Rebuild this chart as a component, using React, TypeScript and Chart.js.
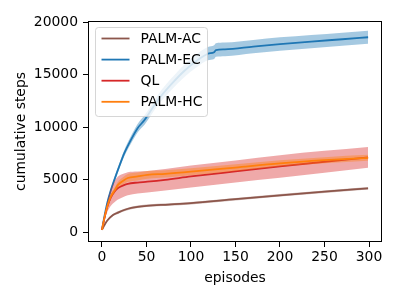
import React, { useEffect, useRef } from "react";
import { Chart, registerables } from "chart.js";

Chart.register(...registerables);

// ---- data ----
const seriesNames = ["PALM-AC", "PALM-EC", "QL", "PALM-HC"];
const seriesColors = ["#8c564b", "#1f77b4", "#d62728", "#ff7f0e"];
const bandColors = [
  "rgba(140,86,75,0.4)",
  "rgba(31,119,180,0.4)",
  "rgba(214,39,40,0.4)",
  "rgba(255,127,14,0.4)",
];

const episodesAC = [0, 3, 6, 12, 18, 25, 33, 50, 75, 100, 150, 200, 250, 299];
const meanAC = [200, 700, 1100, 1600, 1850, 2100, 2300, 2500, 2620, 2750, 3130, 3500, 3850, 4170];
const spreadAC = [0, 50, 80, 100, 120, 120, 120, 120, 120, 120, 120, 120, 120, 120];

const episodesEC = [0, 3, 6, 10, 14, 20, 25, 32, 40, 48, 63, 78, 93, 106, 119, 126, 128, 138, 170, 200, 235, 270, 299];
const meanEC = [200, 1600, 2800, 4000, 5000, 6400, 7500, 8700, 9900, 10700, 12600, 14100, 15400, 16300, 17000, 17150, 17350, 17420, 17680, 17920, 18160, 18380, 18570];
const spreadEC = [0, 100, 150, 200, 250, 250, 300, 350, 400, 450, 500, 550, 600, 620, 630, 650, 650, 650, 640, 640, 630, 630, 630];

const episodesQL = [0, 3, 6, 10, 14, 18, 24, 29, 40, 51, 71, 100, 150, 200, 250, 299];
const meanQL = [200, 1400, 2400, 3300, 3850, 4200, 4450, 4600, 4720, 4800, 4980, 5300, 5780, 6250, 6700, 7120];
const spreadQL = [0, 250, 500, 800, 1000, 1100, 1100, 1100, 1050, 1030, 1030, 1050, 1050, 1080, 1050, 1000];

const episodesHC = [0, 3, 6, 10, 14, 18, 24, 29, 40, 51, 71, 100, 150, 200, 250, 299];
const meanHC = [200, 1450, 2450, 3400, 3950, 4500, 4900, 5150, 5300, 5450, 5550, 5750, 6150, 6550, 6850, 7080];
const spreadHC = [0, 100, 150, 200, 250, 300, 350, 380, 380, 370, 350, 330, 320, 300, 290, 280];

const xTicks = [0, 50, 100, 150, 200, 250, 300];
const yTicks = [0, 5000, 10000, 15000, 20000];
const xTitle = "episodes";
const yTitle = "cumulative steps";

const allEpisodes = [episodesAC, episodesEC, episodesQL, episodesHC];
const allMeans = [meanAC, meanEC, meanQL, meanHC];
const allSpreads = [spreadAC, spreadEC, spreadQL, spreadHC];

const FONT = "DejaVu Sans";
const FS = 13.9;
const LW = 1.8;

function buildDatasets() {
  const ds: any[] = [];
  for (let s = 0; s < seriesNames.length; s++) {
    const eps = allEpisodes[s];
    const m = allMeans[s];
    const sp = allSpreads[s];
    const base = (seriesNames.length - s) * 3;
    const common = {
      pointRadius: 0,
      pointHoverRadius: 0,
      cubicInterpolationMode: "monotone" as const,
    };
    ds.push({
      ...common,
      label: seriesNames[s] + " lo",
      data: eps.map((e, i) => ({ x: e, y: m[i] - sp[i] })),
      borderWidth: 0,
      borderColor: "rgba(0,0,0,0)",
      fill: false,
      order: base,
    });
    ds.push({
      ...common,
      label: seriesNames[s] + " hi",
      data: eps.map((e, i) => ({ x: e, y: m[i] + sp[i] })),
      borderWidth: 0,
      borderColor: "rgba(0,0,0,0)",
      backgroundColor: bandColors[s],
      fill: "-1",
      order: base - 1,
    });
    ds.push({
      ...common,
      label: seriesNames[s],
      data: eps.map((e, i) => ({ x: e, y: m[i] })),
      borderWidth: LW,
      borderColor: seriesColors[s],
      fill: false,
      order: base - 2,
    });
  }
  return ds;
}

const framePlugin = {
  id: "frame",
  afterDatasetsDraw(chart: any) {
    const { ctx, chartArea } = chart;
    ctx.save();
    ctx.strokeStyle = "#000";
    ctx.lineWidth = 1;
    ctx.strokeRect(
      Math.round(chartArea.left) + 0.5,
      Math.round(chartArea.top) + 0.5,
      Math.round(chartArea.right - chartArea.left) - 1,
      Math.round(chartArea.bottom - chartArea.top) - 1
    );
    ctx.restore();
  },
};

const legendPlugin = {
  id: "boxLegend",
  afterDraw(chart: any) {
    const { ctx } = chart;
    const x0 = 95.5, y0 = 27.5, w = 112, h = 89, r = 3;
    ctx.save();
    ctx.beginPath();
    ctx.moveTo(x0 + r, y0);
    ctx.lineTo(x0 + w - r, y0);
    ctx.arcTo(x0 + w, y0, x0 + w, y0 + r, r);
    ctx.lineTo(x0 + w, y0 + h - r);
    ctx.arcTo(x0 + w, y0 + h, x0 + w - r, y0 + h, r);
    ctx.lineTo(x0 + r, y0 + h);
    ctx.arcTo(x0, y0 + h, x0, y0 + h - r, r);
    ctx.lineTo(x0, y0 + r);
    ctx.arcTo(x0, y0, x0 + r, y0, r);
    ctx.closePath();
    ctx.fillStyle = "rgba(255,255,255,0.8)";
    ctx.fill();
    ctx.strokeStyle = "rgba(204,204,204,0.8)";
    ctx.lineWidth = 1;
    ctx.stroke();
    ctx.font = `${FS}px "${FONT}"`;
    ctx.textBaseline = "middle";
    ctx.textAlign = "left";
    for (let i = 0; i < seriesNames.length; i++) {
      const y = 38.5 + i * 21.1;
      ctx.strokeStyle = seriesColors[i];
      ctx.lineWidth = LW;
      ctx.beginPath();
      ctx.moveTo(101.5, y);
      ctx.lineTo(129.5, y);
      ctx.stroke();
      ctx.fillStyle = "#000";
      ctx.fillText(seriesNames[i], 140.5, y + 0.5);
    }
    ctx.restore();
  },
};

export default function App() {
  const ref = useRef<HTMLCanvasElement | null>(null);
  useEffect(() => {
    if (!ref.current) return;
    const tickFont = { family: FONT, size: FS };
    const chart = new Chart(ref.current, {
      type: "line",
      data: { datasets: buildDatasets() },
      options: {
        animation: false,
        responsive: false,
        maintainAspectRatio: false,
        layout: { padding: { left: 0, right: 18, top: 21, bottom: 0 } },
        plugins: {
          legend: { display: false },
          tooltip: { enabled: false },
        },
        scales: {
          x: {
            type: "linear",
            min: -15.7,
            max: 314.6,
            afterBuildTicks: (scale: any) => {
              scale.ticks = xTicks.map((v) => ({ value: v }));
            },
            afterFit: (scale: any) => {
              scale.height = 58;
            },
            ticks: {
              color: "#000",
              font: tickFont,
              padding: 2,
              maxRotation: 0,
              autoSkip: false,
              callback: (v: any) => String(v),
            },
            grid: {
              drawOnChartArea: false,
              drawTicks: true,
              tickLength: 5,
              color: "#000",
              lineWidth: 1,
            },
            border: { display: false },
            title: {
              display: true,
              text: xTitle,
              color: "#000",
              font: tickFont,
              padding: { top: 0, bottom: 13 },
            },
          },
          y: {
            type: "linear",
            min: -950,
            max: 20120,
            afterBuildTicks: (scale: any) => {
              scale.ticks = yTicks.map((v) => ({ value: v }));
            },
            afterFit: (scale: any) => {
              scale.width = 88;
            },
            ticks: {
              color: "#000",
              font: tickFont,
              padding: 5,
              autoSkip: false,
              callback: (v: any) => String(v),
            },
            grid: {
              drawOnChartArea: false,
              drawTicks: true,
              tickLength: 5,
              color: "#000",
              lineWidth: 1,
            },
            border: { display: false },
            title: {
              display: true,
              text: yTitle,
              color: "#000",
              font: tickFont,
              padding: { top: 12.7, bottom: 0 },
            },
          },
        },
      },
      plugins: [framePlugin, legendPlugin],
    } as any);
    return () => chart.destroy();
  }, []);
  return (
    <div style={{ position: "absolute", left: 0, top: 0, width: 400, height: 300, background: "#fff" }}>
      <canvas ref={ref} width={400} height={300} style={{ width: 400, height: 300 }} />
    </div>
  );
}
